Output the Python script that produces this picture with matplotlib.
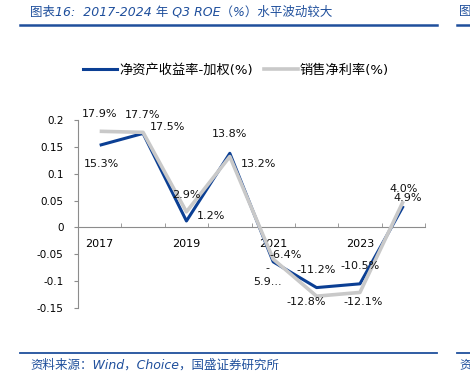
#!/usr/bin/env python3

import numpy as np
import matplotlib.pyplot as plt
from matplotlib.lines import Line2D

plt.rcParams['font.family'] = ['DejaVu Sans', 'Noto Sans CJK SC']

# Data (as fractions)
years = ["2017", "2018", "2019", "2020", "2021", "2022", "2023", "2024"]
roe = [0.153, 0.175, 0.012, 0.138, -0.064, -0.112, -0.105, 0.040]
margin = [0.179, 0.177, 0.029, 0.132, -0.059, -0.128, -0.121, 0.049]
roe_labels = ["15.3%", "17.5%", "1.2%", "13.8%", "-6.4%", "-11.2%", "-10.5%", "4.0%"]
margin_labels = ["17.9%", "17.7%", "2.9%", "13.2%", "-\n5.9...", "-12.8%", "-12.1%", "4.9%"]

blue = "#0b3f94"
gray = "#c9c9c9"
title_blue = "#1f4f9c"

fig = plt.figure(figsize=(4.7, 3.75), dpi=100)
ax = fig.add_axes([78 / 470, 1 - 308 / 375, (425 - 78) / 470, (308 - 120) / 375])

x = np.arange(len(years))
ax.plot(x, roe, color=blue, lw=2.2, zorder=2, solid_capstyle="butt")
ax.plot(x, margin, color=gray, lw=2.6, zorder=3, solid_capstyle="butt")

# data labels, offsets in pixels
roe_off = [(2, -19), (24, 6), (25, 5), (0, 19), (12, 7), (0, 18), (0, 18), (0, 17)]
margin_off = [(0, 17), (0, 17), (0, 17), (29, -7), (-6, -16), (-10, -6), (3, -10), (4, 3)]
for i in range(len(years)):
    ax.annotate(roe_labels[i], (x[i], roe[i]), xytext=roe_off[i], textcoords="offset pixels",
                ha="center", va="center", fontsize=8, color="#111111", zorder=5)
    ax.annotate(margin_labels[i], (x[i], margin[i]), xytext=margin_off[i], textcoords="offset pixels",
                ha="center", va="center", fontsize=8, color="#111111", zorder=5, linespacing=1.5)

ax.set_xlim(-0.5, len(years) - 0.5)
ax.set_ylim(-0.15, 0.2)
ax.set_yticks([-0.15, -0.1, -0.05, 0, 0.05, 0.1, 0.15, 0.2])
ax.set_yticklabels(["-0.15", "-0.1", "-0.05", "0", "0.05", "0.1", "0.15", "0.2"])
ax.set_xticks(x[::2])
ax.set_xticklabels(years[::2])
ax.set_xticks(np.arange(-0.5, len(years)), minor=True)

for s in ["top", "right"]:
    ax.spines[s].set_visible(False)
ax.spines["bottom"].set_position(("data", 0))
ax.spines["bottom"].set_color("#8c8c8c")
ax.spines["left"].set_color("#8c8c8c")
ax.tick_params(axis="y", direction="out", length=3, color="#8c8c8c", labelsize=7.5, pad=7.5)
ax.tick_params(axis="x", which="major", length=0, labelsize=8, pad=8)
ax.tick_params(axis="x", which="minor", direction="in", length=3, color="#8c8c8c")

# legend
handles = [Line2D([], [], color=blue, lw=2.2), Line2D([], [], color=gray, lw=2.6)]
fig.legend(handles, ["净资产收益率-加权(%)", "销售净利率(%)"], loc="center",
           bbox_to_anchor=(236 / 470, 1 - 70 / 375), ncol=2, frameon=False, fontsize=9.5,
           handlelength=2.6, handletextpad=0.15, columnspacing=0.8)

# title, footer and rules
fig.text(30 / 470, 1 - 12 / 375, "图表16:  2017-2024 年 Q3 ROE（%）水平波动较大", fontsize=9,
         color=title_blue, style="italic", va="center", ha="left")
fig.text(30 / 470, 1 - 365 / 375, "资料来源：Wind，Choice，国盛证券研究所", fontsize=9,
         color=title_blue, style="italic", va="center", ha="left")
fig.text(459 / 470, 1 - 12 / 375, "图", fontsize=9, color=title_blue, va="center", ha="left")
fig.text(459 / 470, 1 - 365 / 375, "资", fontsize=9, color=title_blue, va="center", ha="left")
for y0, lw in [(24.5, 1.8), (353, 1.3)]:
    fig.add_artist(Line2D([20 / 470, 437 / 470], [1 - y0 / 375] * 2, color=title_blue, lw=lw))
    fig.add_artist(Line2D([457 / 470, 1], [1 - y0 / 375] * 2, color=title_blue, lw=lw))

plt.savefig("out.png", dpi=100)
